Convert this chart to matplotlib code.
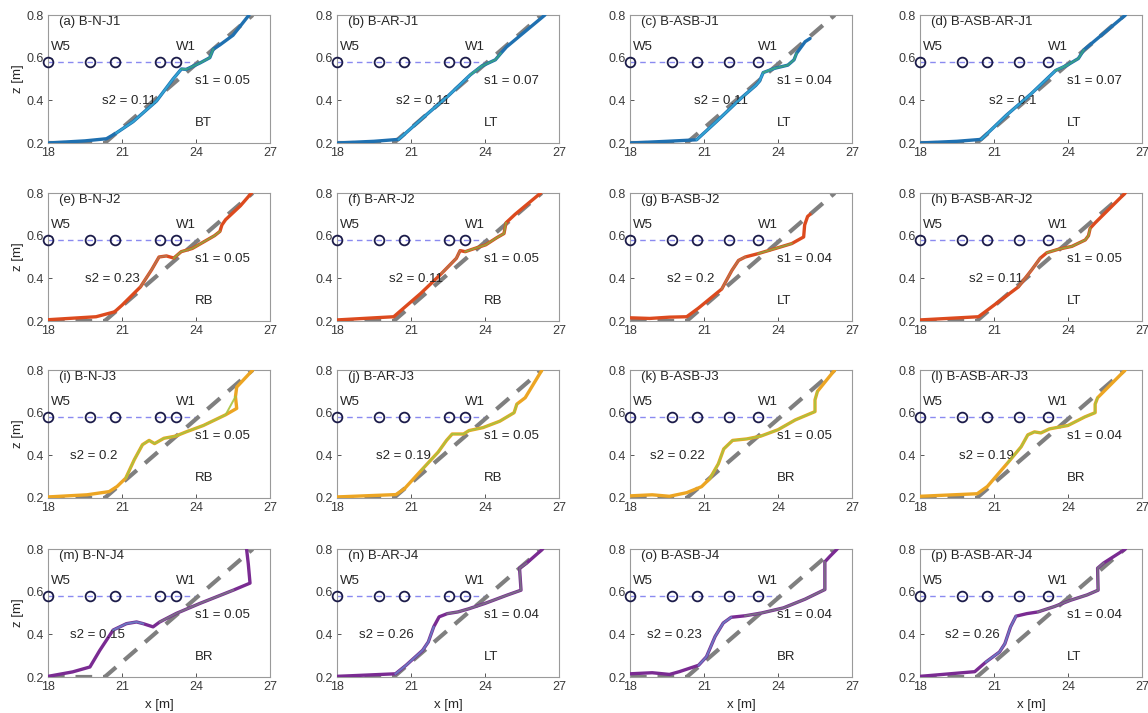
import numpy as np
import matplotlib
matplotlib.use("Agg")
import matplotlib.pyplot as plt

plt.rcParams["font.family"] = ["Liberation Sans", "DejaVu Sans"]

# initial 1:10 beach profile
init_x = [18.0, 20.3, 26.3]
init_z = [0.2, 0.2, 0.8]

# wave gauges (W5 ... W1) on the still water level
gauge_z = 0.58
gauges_plain = [18.0, 19.7, 20.7, 22.55, 23.2]
gauges_asb = [18.0, 19.7, 20.7, 22.0, 23.2]

# measured profiles, J1
bn_j1_x = [18.0, 19.5, 20.37, 20.77, 21.45, 22.4, 23.07, 23.41, 23.6, 24.16, 24.56, 24.7, 24.97, 25.5, 26.15]
bn_j1_z = [0.2, 0.21, 0.22, 0.247, 0.30, 0.397, 0.50, 0.547, 0.545, 0.575, 0.60, 0.64, 0.66, 0.705, 0.8]
bar_j1_x = [18.0, 19.5, 20.5, 21.5, 22.5, 23.41, 23.86, 24.42, 24.64, 24.87, 26.43]
bar_j1_z = [0.2, 0.208, 0.217, 0.32, 0.42, 0.52, 0.56, 0.59, 0.62, 0.65, 0.8]
basb_j1_x = [18.0, 19.5, 20.7, 21.5, 22.5, 23.1, 23.25, 23.4, 23.86, 24.4, 24.65, 24.75, 25.1, 25.3]
basb_j1_z = [0.2, 0.208, 0.215, 0.30, 0.41, 0.47, 0.49, 0.53, 0.55, 0.565, 0.59, 0.62, 0.675, 0.69]
basbar_j1_x = [18.0, 19.5, 20.48, 21.5, 22.5, 23.5, 23.97, 24.42, 24.64, 26.33]
basbar_j1_z = [0.2, 0.208, 0.217, 0.33, 0.43, 0.54, 0.565, 0.596, 0.636, 0.8]

# J2
bn_j2_x = [18.0, 19.95, 20.7, 21.0, 21.75, 22.2, 22.5, 22.8, 23.1, 23.4, 23.85, 24.3, 24.75, 24.97, 25.05, 25.2, 25.8, 26.25]
bn_j2_z = [0.206, 0.22, 0.243, 0.274, 0.36, 0.44, 0.50, 0.505, 0.495, 0.525, 0.54, 0.57, 0.60, 0.62, 0.65, 0.675, 0.74, 0.8]
bar_j2_x = [18.0, 20.3, 20.53, 21.4, 22.24, 22.84, 22.99, 23.2, 23.58, 24.03, 24.47, 24.77, 24.85, 25.22, 26.26]
bar_j2_z = [0.205, 0.22, 0.243, 0.33, 0.423, 0.494, 0.53, 0.525, 0.54, 0.557, 0.59, 0.61, 0.66, 0.70, 0.8]
basb_j2_x = [18.0, 18.8, 19.6, 20.3, 20.77, 21.72, 22.13, 22.4, 22.67, 23.2, 23.9, 24.56, 25.04, 25.08, 25.2, 25.3]
basb_j2_z = [0.215, 0.212, 0.218, 0.22, 0.26, 0.35, 0.437, 0.484, 0.50, 0.516, 0.54, 0.563, 0.594, 0.65, 0.69, 0.70]
basbar_j2_x = [18.0, 20.37, 20.64, 21.99, 22.53, 22.87, 23.14, 23.6, 24.16, 24.7, 24.83, 24.9, 25.1, 26.32]
basbar_j2_z = [0.205, 0.22, 0.243, 0.36, 0.44, 0.494, 0.52, 0.536, 0.55, 0.58, 0.60, 0.635, 0.66, 0.8]

# J3
bn_j3_x = [18.0, 19.58, 20.48, 20.8, 21.15, 21.5, 21.83, 22.1, 22.32, 22.7, 23.17, 23.6, 24.3, 25.2, 25.65, 25.6, 25.65, 26.3]
bn_j3_z = [0.205, 0.215, 0.23, 0.254, 0.293, 0.38, 0.45, 0.47, 0.455, 0.48, 0.49, 0.51, 0.54, 0.59, 0.62, 0.675, 0.72, 0.8]
bar_j3_x = [18.0, 20.39, 20.73, 21.42, 22.1, 22.44, 22.67, 23.13, 23.35, 23.92, 24.6, 25.18, 25.29, 25.63, 26.31]
bar_j3_z = [0.205, 0.216, 0.243, 0.33, 0.415, 0.47, 0.50, 0.50, 0.516, 0.53, 0.56, 0.60, 0.64, 0.67, 0.8]
basb_j3_x = [18.0, 18.9, 19.6, 20.3, 20.9, 21.23, 21.58, 21.8, 22.16, 22.74, 23.3, 24.0, 24.7, 25.5, 25.5, 25.6, 26.3]
basb_j3_z = [0.21, 0.215, 0.208, 0.225, 0.253, 0.29, 0.36, 0.43, 0.47, 0.477, 0.49, 0.52, 0.566, 0.605, 0.66, 0.70, 0.8]
basbar_j3_x = [18.0, 20.32, 20.73, 21.55, 22.1, 22.37, 22.64, 22.9, 23.25, 24.0, 24.68, 25.1, 25.1, 25.2, 26.32]
basbar_j3_z = [0.208, 0.22, 0.254, 0.364, 0.44, 0.496, 0.51, 0.505, 0.524, 0.54, 0.58, 0.60, 0.64, 0.67, 0.8]

# J4
bn_j4_x = [18.0, 19.0, 19.7, 20.1, 20.64, 21.18, 21.59, 21.86, 22.26, 22.53, 23.2, 24.16, 25.51, 26.19, 26.12, 26.05]
bn_j4_z = [0.203, 0.224, 0.247, 0.325, 0.42, 0.45, 0.458, 0.45, 0.435, 0.458, 0.498, 0.545, 0.607, 0.64, 0.73, 0.8]
bar_j4_x = [18.0, 20.37, 20.8, 21.47, 21.7, 21.92, 22.14, 22.47, 22.9, 23.35, 24.0, 24.9, 25.46, 25.4, 25.68, 26.34]
bar_j4_z = [0.203, 0.215, 0.255, 0.325, 0.364, 0.435, 0.482, 0.497, 0.505, 0.52, 0.545, 0.584, 0.607, 0.71, 0.733, 0.8]
basb_j4_x = [18.0, 18.9, 19.6, 20.0, 20.78, 21.1, 21.45, 21.78, 22.1, 22.67, 23.33, 24.22, 25.1, 25.9, 25.9, 26.1, 26.4]
basb_j4_z = [0.215, 0.22, 0.212, 0.225, 0.255, 0.295, 0.39, 0.453, 0.48, 0.487, 0.50, 0.524, 0.565, 0.61, 0.74, 0.765, 0.8]
basbar_j4_x = [18.0, 20.22, 20.67, 21.22, 21.44, 21.67, 21.89, 22.33, 22.78, 23.44, 24.11, 24.78, 25.22, 25.2, 25.44, 26.33]
basbar_j4_z = [0.203, 0.225, 0.27, 0.317, 0.356, 0.435, 0.485, 0.497, 0.505, 0.53, 0.56, 0.585, 0.607, 0.71, 0.734, 0.8]

titles = ["(a) B-N-J1", "(b) B-AR-J1", "(c) B-ASB-J1", "(d) B-ASB-AR-J1",
          "(e) B-N-J2", "(f) B-AR-J2", "(g) B-ASB-J2", "(h) B-ASB-AR-J2",
          "(i) B-N-J3", "(j) B-AR-J3", "(k) B-ASB-J3", "(l) B-ASB-AR-J3",
          "(m) B-N-J4", "(n) B-AR-J4", "(o) B-ASB-J4", "(p) B-ASB-AR-J4"]
s1_values = [0.05, 0.07, 0.04, 0.07,
             0.05, 0.05, 0.04, 0.05,
             0.05, 0.05, 0.05, 0.04,
             0.05, 0.04, 0.04, 0.04]
s2_values = [0.11, 0.11, 0.11, 0.1,
             0.23, 0.11, 0.2, 0.11,
             0.2, 0.19, 0.22, 0.19,
             0.15, 0.26, 0.23, 0.26]
regimes = ["BT", "LT", "LT", "LT",
           "RB", "RB", "LT", "LT",
           "RB", "RB", "BR", "BR",
           "BR", "LT", "BR", "LT"]

profiles = [(bn_j1_x, bn_j1_z), (bar_j1_x, bar_j1_z), (basb_j1_x, basb_j1_z), (basbar_j1_x, basbar_j1_z),
            (bn_j2_x, bn_j2_z), (bar_j2_x, bar_j2_z), (basb_j2_x, basb_j2_z), (basbar_j2_x, basbar_j2_z),
            (bn_j3_x, bn_j3_z), (bar_j3_x, bar_j3_z), (basb_j3_x, basb_j3_z), (basbar_j3_x, basbar_j3_z),
            (bn_j4_x, bn_j4_z), (bar_j4_x, bar_j4_z), (basb_j4_x, basb_j4_z), (basbar_j4_x, basbar_j4_z)]

# where the s2 label starts along x, per panel
s2_pos = [20.2, 20.4, 20.6, 20.8,
          19.5, 20.1, 19.5, 20.0,
          18.9, 19.6, 18.8, 19.6,
          18.9, 18.9, 18.7, 19.0]

# per-row colours: base line and overlays (x-range, colour)
row_styles = [
    ("#1f70b0", [((20.4, 24.0), "#35aad8"), ((23.4, 24.8), "#3aa383")]),
    ("#dc4a1e", [((21.5, 23.0), "#b8764e"), ((23.0, 25.0), "#96a23c")]),
    ("#eca523", [((21.0, 25.6), "#a9c23e")]),
    ("#7a2b92", [((20.3, 22.1), "#6b7fc6"), ((22.4, 26.0), "#7b7486")]),
]

fig = plt.figure(figsize=(11.48, 7.13), dpi=100)

col_left = [48, 337, 630, 920]
row_top = [15, 193, 370, 549]
ax_w, ax_h = 222, 128
W, H = 1148, 713
text_c = "#262626"

for i in range(16):
    r, c = divmod(i, 4)
    ax = fig.add_axes([col_left[c] / W, 1 - (row_top[r] + ax_h) / H, ax_w / W, ax_h / H])
    px = np.asarray(profiles[i][0])
    pz = np.asarray(profiles[i][1])

    ax.plot(init_x, init_z, color="#7f7f7f", lw=3, dashes=(4, 2.6), zorder=2)

    base, overlays = row_styles[r]
    ax.plot(px, pz, color=base, lw=2.4, solid_capstyle="round", zorder=3)
    for (x0, x1), col in overlays:
        m = (px >= x0) & (px <= x1)
        ax.plot(px[m], pz[m], color=col, lw=1.4, alpha=0.9, zorder=4)

    g = gauges_asb if c >= 2 else gauges_plain
    ax.plot([18.0, 24.1], [gauge_z, gauge_z], color="#8a8af0", lw=1.0, dashes=(4, 3), zorder=1)
    ax.plot(g, [gauge_z] * len(g), "o", ms=7, mfc="none", mec="#1c1c4a", mew=1.3, zorder=5,
            clip_on=False)

    ax.text(18.45, 0.765, titles[i], fontsize=9.5, color=text_c, va="center")
    ax.text(18.1, 0.65, "W5", fontsize=9.5, color=text_c, va="center")
    ax.text(23.2, 0.65, "W1", fontsize=9.5, color=text_c, va="center")
    ax.text(23.95, 0.49, f"s1 = {s1_values[i]:g}", fontsize=9.5, color=text_c, va="center")
    ax.text(s2_pos[i], 0.395, f"s2 = {s2_values[i]:g}", fontsize=9.5, color=text_c, va="center")
    ax.text(23.95, 0.295, regimes[i], fontsize=9.5, color=text_c, va="center")

    ax.set_xlim(18, 27)
    ax.set_ylim(0.2, 0.8)
    ax.set_xticks([18, 21, 24, 27])
    ax.set_yticks([0.2, 0.4, 0.6, 0.8])
    ax.set_yticklabels(["0.2", "0.4", "0.6", "0.8"])
    ax.tick_params(direction="in", length=3, width=0.6, labelsize=9, colors="#3a3a3a", pad=3)
    for s in ax.spines.values():
        s.set_color("#9a9a9a")
        s.set_linewidth(0.8)

    if c == 0:
        ax.set_ylabel("z [m]", fontsize=9.5, color=text_c, labelpad=2)
    if r == 3:
        ax.set_xlabel("x [m]", fontsize=9.5, color=text_c, labelpad=4)

fig.savefig("out.png", dpi=100)
